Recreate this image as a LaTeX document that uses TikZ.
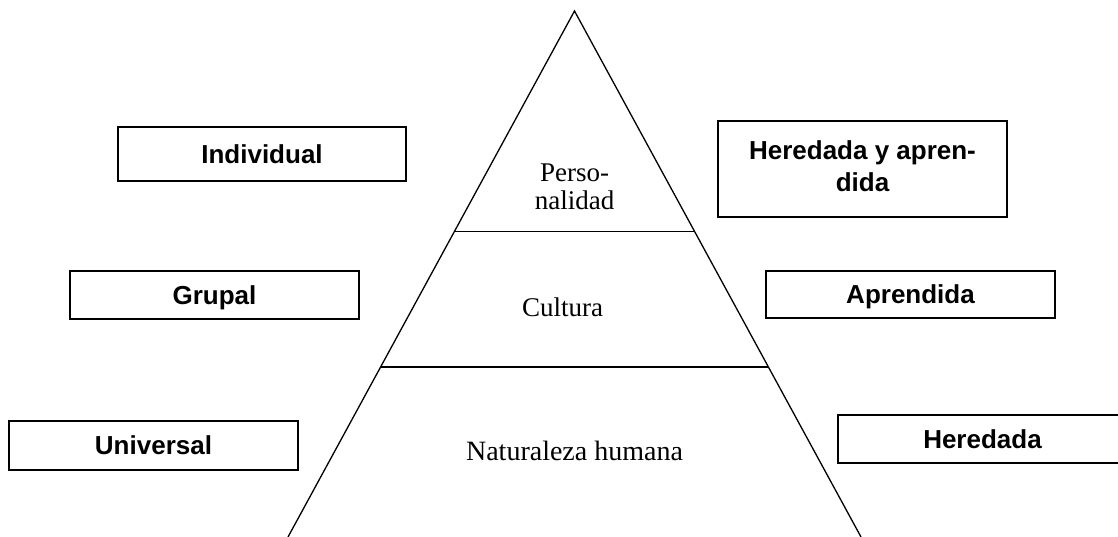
\documentclass[tikz,border=0pt]{standalone}
\usepackage{fontspec}
\setmainfont{Liberation Serif}
\newfontfamily\boxfont{Liberation Sans}
\usetikzlibrary{calc}
\tikzset{
  label box/.style={draw, line width=2pt, inner sep=0pt, align=center,
    font=\boxfont\bfseries\fontsize{26}{31}\selectfont,
    text height=18.6pt, text depth=0pt},
  level text/.style={inner sep=0pt, align=center, font=\fontsize{27}{28}\selectfont},
  edge line/.style={line width=1.3pt}
}
\begin{document}
\begin{tikzpicture}[x=1pt,y=-1pt]
\useasboundingbox (0,0) rectangle (1118,537);
% triangle
\coordinate (apex) at (574.5,11);
\coordinate (bl) at (288,537);
\coordinate (br) at (861,537);
\draw[edge line] (bl) -- (apex) -- (br);
\coordinate (l1) at ($(apex)!0.4192!(bl)$);
\coordinate (r1) at ($(apex)!0.4192!(br)$);
\coordinate (l2) at ($(apex)!0.6768!(bl)$);
\coordinate (r2) at ($(apex)!0.6768!(br)$);
\draw[edge line] (l1) -- (r1);
\draw[edge line] (l2) -- (r2);
% level texts
\node[level text, anchor=base] (pers) at (574.5,210) {Perso-\\nalidad};
\node[level text, anchor=base] (cult) at (562.5,316) {Cultura};
\node[level text, anchor=base, font=\fontsize{28}{30}\selectfont] (nat) at (574.5,460) {Naturaleza humana};
% left boxes
\node[label box, minimum width=288pt, minimum height=54pt] (ind) at (262,154) {Individual};
\node[label box, minimum width=289pt, minimum height=48pt] (grp) at (214.5,295) {Grupal};
\node[label box, minimum width=289pt, minimum height=49pt] (uni) at (153.5,445.5) {Universal};
% right boxes
\node[draw, line width=2pt, minimum width=289pt, minimum height=96pt, inner sep=0pt] (hya) at (862.5,169) {};
\node[inner sep=0pt, align=center, font=\boxfont\bfseries\fontsize{26}{32}\selectfont, anchor=base] (hyatext) at (862.5,192) {Heredada y apren-\\dida};
\node[label box, minimum width=289pt, minimum height=47pt] (apr) at (910.5,294.5) {Aprendida};
\node[label box, minimum width=289pt, minimum height=48pt] (her) at (982.5,439) {Heredada};
\end{tikzpicture}
\end{document}
